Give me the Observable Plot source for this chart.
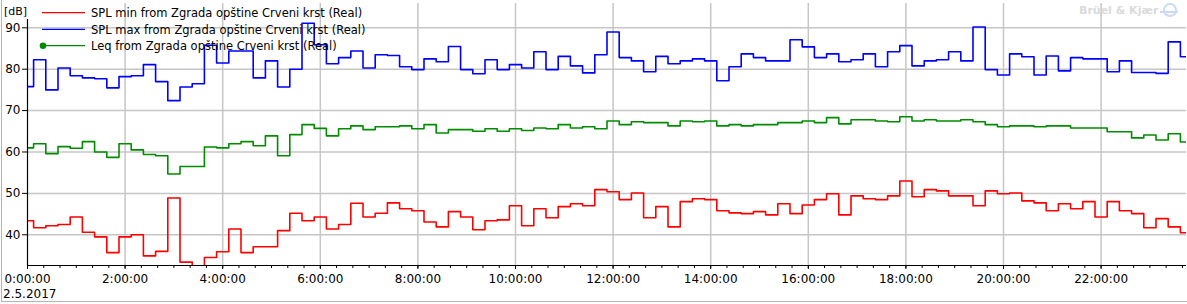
<!DOCTYPE html>
<html>
<head>
<meta charset="utf-8">
<script src="https://cdn.jsdelivr.net/npm/d3@7"></script>
<script src="https://cdn.jsdelivr.net/npm/@observablehq/plot@0.6"></script>
<style>
  html, body { margin: 0; padding: 0; background: #fff; }
  #wrap { position: relative; width: 1187px; height: 304px; overflow: hidden; font-family: "DejaVu Sans", sans-serif; color: #000; }
  #chart { position: absolute; left: 0; top: 0; }
  .lbl { position: absolute; font-size: 11px; white-space: nowrap; line-height: 1; }
  #frame { position: absolute; left: 1px; top: 0; width: 1190px; height: 301px; border-left: 1px solid #b4b4b4; border-bottom: 1px solid #b4b4b4; pointer-events: none; }
</style>
</head>
<body>
<div id="wrap">
  <div id="chart"></div>
  <div id="frame"></div>
</div>
<script>
// Time categories: one value every 15 minutes starting at 0:00 (hours)
const stepHours = 0.25;
const splMax = [75.8,82.3,75.0,80.3,78.4,77.9,77.7,75.5,78.2,78.4,81.1,77.0,72.4,75.7,76.5,85.8,
81.5,84.4,84.4,77.9,82.0,75.7,80.0,91.1,85.9,81.3,82.8,84.4,80.3,83.5,83.3,80.6,
79.9,82.5,81.8,85.5,79.9,78.9,82.3,79.9,81.1,80.3,84.2,79.9,83.1,80.8,79.1,83.5,
89.0,82.8,82.0,79.4,83.1,81.3,82.0,82.5,82.0,77.2,80.6,83.7,82.8,82.0,82.0,87.1,
85.4,82.8,83.7,81.8,82.3,83.7,80.6,84.2,85.7,80.8,82.0,82.3,84.2,82.0,90.2,79.9,
78.6,83.7,83.0,78.6,83.2,79.6,82.8,82.5,82.5,79.4,82.0,79.2,79.2,79.0,86.6,83.0];
const leq = [61.0,62.0,59.6,61.3,60.9,62.5,60.0,58.7,62.0,60.5,59.4,59.1,54.7,56.5,56.5,61.2,
61.0,62.0,62.5,61.5,63.9,59.1,64.2,66.6,65.7,63.9,65.6,66.3,65.4,66.1,66.1,66.3,
65.6,66.6,64.6,65.4,65.4,65.0,65.6,65.0,65.6,65.2,65.8,65.6,66.6,65.8,66.1,65.6,
67.5,66.6,67.3,67.1,67.1,66.3,67.5,67.3,67.5,66.3,66.6,66.3,66.6,66.6,67.1,67.1,
67.5,67.1,68.3,66.8,67.8,67.8,67.5,67.3,68.5,67.5,67.8,67.5,67.5,67.8,67.3,66.6,
66.1,66.3,66.3,66.1,66.3,66.3,65.8,65.8,65.8,64.9,64.9,63.4,64.1,62.9,64.4,62.4];
const splMin = [43.4,41.7,42.2,42.5,44.3,40.6,39.5,35.7,39.5,40.0,34.9,36.0,48.9,33.4,31.5,34.5,
35.9,41.4,35.7,37.1,37.1,41.0,45.2,43.4,44.3,41.4,42.5,47.6,44.3,45.2,47.7,46.3,
45.8,43.1,41.9,45.6,44.3,41.2,43.4,43.6,47.0,42.2,46.3,44.1,46.8,47.5,47.0,50.9,
50.4,48.5,50.1,44.1,46.8,41.9,48.0,48.7,48.5,45.8,45.3,45.1,45.6,44.8,47.5,45.1,
47.2,48.5,49.9,44.8,49.4,48.7,48.5,49.4,53.0,49.2,50.9,50.6,49.4,49.4,47.0,50.6,
49.9,50.1,48.2,47.7,45.8,47.5,46.3,48.0,44.3,48.0,45.8,45.1,41.7,43.9,41.9,40.5];

const seriesNames = [
  "SPL min from Zgrada opštine Crveni krst (Real)",
  "SPL max from Zgrada opštine Crveni krst (Real)",
  "Leq from Zgrada opštine Crveni krst (Real)"
];
const seriesColors = ["#ff0000", "#0000ff", "#008c00"];
const yTicks = [40, 50, 60, 70, 80, 90];
const xMajorTicks = [0, 2, 4, 6, 8, 10, 12, 14, 16, 18, 20, 22];
const xMinorStepHours = 1 / 3;
const yUnit = "[dB]";
const dateLabel = "2.5.2017";
const brand = "Brüel & Kjær";

const yDomain = [32.58, 95.87];
const xDomain = [0, (splMax.length - 1) * stepHours];

const toRows = (arr) => arr.map((v, i) => ({t: i * stepHours, v}));
const rowsMin = toRows(splMin), rowsMax = toRows(splMax), rowsLeq = toRows(leq);
const xMinor = d3.range(0, xDomain[1] + 1e-9, xMinorStepHours);

const fmtTime = (h) => `${h}:00:00`;

const chart = Plot.plot({
  width: 1187,
  height: 304,
  marginLeft: 27,
  marginRight: 1,
  marginTop: 3,
  marginBottom: 39,
  style: {fontFamily: "DejaVu Sans, sans-serif", fontSize: "11px", color: "#000", background: "transparent"},
  x: {type: "linear", domain: xDomain, axis: null, label: null},
  y: {type: "linear", domain: yDomain, axis: null, label: null},
  marks: [
    Plot.gridY(yTicks, {stroke: "#c6c6c6", strokeOpacity: 1, strokeWidth: 1.5}),
    Plot.gridX(xMajorTicks.filter(d => d > 0), {stroke: "#c6c6c6", strokeOpacity: 1, strokeWidth: 1.5}),
    Plot.line(rowsMin, {x: "t", y: "v", curve: "step", stroke: seriesColors[0], strokeWidth: 1.6, clip: true}),
    Plot.line(rowsMax, {x: "t", y: "v", curve: "step", stroke: seriesColors[1], strokeWidth: 1.6, clip: true}),
    Plot.line(rowsLeq, {x: "t", y: "v", curve: "step", stroke: seriesColors[2], strokeWidth: 1.6, clip: true}),
    Plot.ruleY([yDomain[0]], {stroke: "#000", strokeWidth: 1.2}),
    Plot.ruleX([0], {y1: yDomain[0], y2: 92, stroke: "#000", strokeWidth: 1.2}),
    Plot.axisY(yTicks, {anchor: "left", label: null, tickSize: 5, tickPadding: 2, tickFormat: d => String(d), fontSize: 12, stroke: "#000"}),
    Plot.axisX(xMajorTicks, {anchor: "bottom", label: null, tickSize: 4, tickPadding: 5, tickFormat: fmtTime, fontSize: 12, stroke: "#000"}),
    Plot.axisX(xMinor, {anchor: "bottom", label: null, tickSize: 3, text: null, stroke: "#000"})
  ]
});
document.getElementById("chart").appendChild(chart);

const wrap = document.getElementById("wrap");
function addLabel(text, left, top, extra = {}) {
  const d = document.createElement("div");
  d.className = "lbl";
  d.textContent = text;
  d.style.left = left + "px";
  d.style.top = top + "px";
  Object.assign(d.style, extra);
  wrap.appendChild(d);
  return d;
}
addLabel(yUnit, 4, 6, {fontSize: "11px"});
addLabel(dateLabel, 3, 288, {fontSize: "12px"});
addLabel(brand, 1079, 5, {fontSize: "11px", fontWeight: "bold", color: "#dadada"});

// legend (drawn over the plot)
const ns = "http://www.w3.org/2000/svg";
const ox = 36;
const leg = document.createElementNS(ns, "svg");
leg.setAttribute("width", 360);
leg.setAttribute("height", 56);
leg.style.position = "absolute";
leg.style.left = ox + "px";
leg.style.top = "0px";
wrap.appendChild(leg);
const rowY = [12.7, 29.3, 45.7];
seriesNames.forEach((name, i) => {
  const ln = document.createElementNS(ns, "line");
  ln.setAttribute("x1", 42 - ox); ln.setAttribute("x2", 85 - ox);
  ln.setAttribute("y1", rowY[i]); ln.setAttribute("y2", rowY[i]);
  ln.setAttribute("stroke", seriesColors[i]); ln.setAttribute("stroke-width", 1.2);
  leg.appendChild(ln);
  if (i === 2) {
    const c = document.createElementNS(ns, "circle");
    c.setAttribute("cx", 43 - ox); c.setAttribute("cy", rowY[i]); c.setAttribute("r", 3.3);
    c.setAttribute("fill", seriesColors[i]);
    leg.appendChild(c);
  }
  const t = document.createElementNS(ns, "text");
  t.setAttribute("x", 91 - ox); t.setAttribute("y", rowY[i] + 4.5);
  t.setAttribute("font-family", "DejaVu Sans, sans-serif");
  t.setAttribute("font-size", 11.5);
  t.textContent = name;
  leg.appendChild(t);
});
// brand icon
const ic = document.createElementNS(ns, "svg");
ic.setAttribute("width", 20); ic.setAttribute("height", 18);
ic.style.position = "absolute"; ic.style.left = "1159px"; ic.style.top = "1px";
const cc = document.createElementNS(ns, "circle");
cc.setAttribute("cx", 11); cc.setAttribute("cy", 9); cc.setAttribute("r", 6);
cc.setAttribute("fill", "none"); cc.setAttribute("stroke", "#ccd9f2"); cc.setAttribute("stroke-width", 2);
ic.appendChild(cc);
const hl = document.createElementNS(ns, "line");
hl.setAttribute("x1", 1); hl.setAttribute("x2", 19); hl.setAttribute("y1", 11); hl.setAttribute("y2", 11);
hl.setAttribute("stroke", "#ccd9f2"); hl.setAttribute("stroke-width", 2);
ic.appendChild(hl);
wrap.appendChild(ic);
</script>
</body>
</html>
